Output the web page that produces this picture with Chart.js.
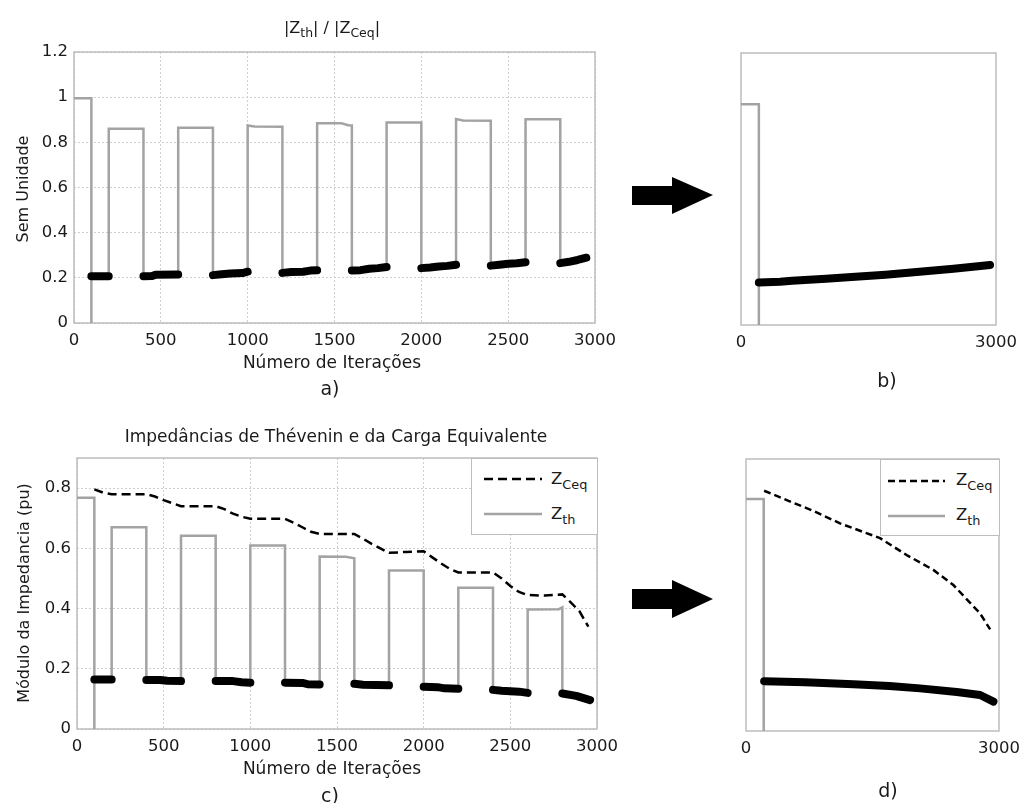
<!DOCTYPE html>
<html>
<head>
<meta charset="utf-8">
<script src="https://cdn.jsdelivr.net/npm/chart.js@4.4.1/dist/chart.umd.min.js"></script>
<style>
  body { margin: 0; width: 1023px; height: 803px; background: #fff; position: relative; overflow: hidden;
         font-family: "DejaVu Sans", sans-serif; color: #1a1a1a; }
  .box { position: absolute; }
  .lbl { position: absolute; transform: translate(-50%, -50%); white-space: nowrap; }
  .ylbl { position: absolute; transform: translate(-50%, -50%) rotate(-90deg); white-space: nowrap; font-size: 16px; }
  sub { font-size: 0.78em; vertical-align: -0.4em; line-height: 0; }
  .legend { position: absolute; background: #fff; border: 1px solid #bdbdbd; box-sizing: border-box; z-index: 2; }
  .legend span { position: absolute; transform: translateY(-50%); font-size: 16.5px; white-space: nowrap; }
  .arrow { position: absolute; }
</style>
</head>
<body>

<div class="box" style="left:0;top:40px;width:620px;height:350px"><canvas id="chartA"></canvas></div>
<div class="box" style="left:700px;top:40px;width:320px;height:330px"><canvas id="chartB"></canvas></div>
<div class="box" style="left:0;top:440px;width:622px;height:350px"><canvas id="chartC"></canvas></div>
<div class="box" style="left:705px;top:440px;width:318px;height:330px"><canvas id="chartD"></canvas></div>

<div class="lbl" style="left:332px;top:27px;font-size:16px">|Z<sub>th</sub>| / |Z<sub>Ceq</sub>|</div>
<div class="ylbl" style="left:22px;top:189px">Sem Unidade</div>
<div class="lbl" style="left:332px;top:362px;font-size:17px">Número de Iterações</div>
<div class="lbl" style="left:330px;top:388px;font-size:19px">a)</div>
<div class="lbl" style="left:887px;top:380px;font-size:19px">b)</div>

<div class="lbl" style="left:336px;top:436px;font-size:17px">Impedâncias de Thévenin e da Carga Equivalente</div>
<div class="ylbl" style="left:23px;top:593px">Módulo da Impedancia (pu)</div>
<div class="lbl" style="left:332px;top:768px;font-size:17px">Número de Iterações</div>
<div class="lbl" style="left:330px;top:795px;font-size:19px">c)</div>
<div class="lbl" style="left:888px;top:790px;font-size:19px">d)</div>

<div class="legend" style="left:471px;top:458px;width:127px;height:77px">
  <svg width="125" height="75" style="position:absolute;left:0;top:0">
    <line x1="12" y1="20" x2="70" y2="20" stroke="#000" stroke-width="2.5" stroke-dasharray="9,5"/>
    <line x1="12" y1="55" x2="70" y2="55" stroke="#a3a3a3" stroke-width="2.5"/>
  </svg>
  <span style="left:79px;top:19px">Z<sub>Ceq</sub></span>
  <span style="left:79px;top:54px">Z<sub>th</sub></span>
</div>
<div class="legend" style="left:880px;top:459px;width:120px;height:77px">
  <svg width="118" height="75" style="position:absolute;left:0;top:0">
    <line x1="7" y1="21" x2="64" y2="21" stroke="#000" stroke-width="2.5" stroke-dasharray="7,4"/>
    <line x1="7" y1="56" x2="64" y2="56" stroke="#a3a3a3" stroke-width="2.5"/>
  </svg>
  <span style="left:75px;top:19px">Z<sub>Ceq</sub></span>
  <span style="left:75px;top:54px">Z<sub>th</sub></span>
</div>

<svg class="arrow" style="left:630px;top:175px" width="86" height="42">
  <polygon points="2,11 42,11 42,2 83,20 42,39 42,30 2,30" fill="#000"/>
</svg>
<svg class="arrow" style="left:630px;top:578px" width="86" height="42">
  <polygon points="2,11 42,11 42,2 83,21 42,40 42,31 2,31" fill="#000"/>
</svg>

<script>
// a) |Zth| / |ZCeq| - full run
const aGrayIter = [0, 100, 100, 100, 200, 200, 400, 400, 600, 600, 800, 800, 1000, 1000, 1040, 1200, 1200, 1400, 1400, 1540, 1580, 1600, 1600, 1800, 1800, 2000, 2000, 2200, 2200, 2240, 2400, 2400, 2600, 2600, 2800, 2800, 2950];
const aGrayVal = [0.995, 0.995, 0, 0.207, 0.207, 0.86, 0.86, 0.207, 0.215, 0.865, 0.865, 0.212, 0.227, 0.875, 0.87, 0.869, 0.222, 0.234, 0.884, 0.884, 0.876, 0.875, 0.233, 0.248, 0.888, 0.888, 0.243, 0.258, 0.903, 0.897, 0.896, 0.254, 0.269, 0.902, 0.902, 0.265, 0.289];
// null = gap between converged stretches
const aDotIter = [100, 200, 200, 400, 450, 470, 600, 600, 800, 850, 900, 970, 1000, 1000, 1200, 1250, 1320, 1360, 1400, 1400, 1600, 1650, 1700, 1750, 1800, 1800, 2000, 2050, 2100, 2150, 2200, 2200, 2400, 2450, 2500, 2550, 2600, 2600, 2800, 2850, 2900, 2950];
const aDotVal = [0.207, 0.207, null, 0.207, 0.208, 0.214, 0.215, null, 0.212, 0.216, 0.219, 0.221, 0.227, null, 0.222, 0.226, 0.227, 0.232, 0.234, null, 0.233, 0.234, 0.24, 0.243, 0.248, null, 0.243, 0.246, 0.25, 0.253, 0.258, null, 0.254, 0.258, 0.262, 0.265, 0.269, null, 0.265, 0.271, 0.279, 0.289];

// b) same ratio, zoomed run
const bGrayIter = [0, 210, 210, 210];
const bGrayVal = [0.974, 0.974, 0, 0.187];
const bDotIter = [210, 460, 600, 1000, 1300, 1700, 2100, 2500, 2930];
const bDotVal = [0.187, 0.191, 0.195, 0.204, 0.212, 0.222, 0.235, 0.248, 0.265];

// c) impedances - full run
const cGrayIter = [0, 100, 100, 100, 200, 200, 400, 400, 600, 600, 800, 800, 1000, 1000, 1200, 1200, 1400, 1400, 1550, 1600, 1600, 1800, 1800, 2000, 2000, 2200, 2200, 2400, 2400, 2600, 2600, 2780, 2800, 2800, 2950];
const cGrayVal = [0.768, 0.768, 0, 0.164, 0.164, 0.67, 0.67, 0.163, 0.159, 0.642, 0.642, 0.159, 0.154, 0.609, 0.609, 0.154, 0.148, 0.573, 0.572, 0.567, 0.15, 0.145, 0.526, 0.526, 0.14, 0.134, 0.469, 0.469, 0.13, 0.12, 0.397, 0.398, 0.404, 0.118, 0.096];
const cDotIter = [100, 200, 200, 400, 480, 520, 600, 600, 800, 900, 950, 1000, 1000, 1200, 1300, 1330, 1400, 1400, 1600, 1650, 1800, 1800, 2000, 2080, 2120, 2200, 2200, 2400, 2450, 2550, 2600, 2600, 2800, 2880, 2960];
const cDotVal = [0.164, 0.164, null, 0.163, 0.163, 0.16, 0.159, null, 0.159, 0.159, 0.155, 0.154, null, 0.154, 0.153, 0.149, 0.148, null, 0.15, 0.147, 0.145, null, 0.14, 0.139, 0.135, 0.134, null, 0.13, 0.127, 0.124, 0.12, null, 0.118, 0.11, 0.096];
const cDashIter = [100, 150, 200, 400, 450, 500, 550, 600, 800, 850, 900, 950, 1000, 1200, 1250, 1300, 1350, 1400, 1600, 1650, 1700, 1750, 1800, 1900, 2000, 2050, 2100, 2150, 2200, 2400, 2450, 2500, 2550, 2600, 2700, 2800, 2850, 2900, 2950];
const cDashVal = [0.796, 0.785, 0.78, 0.78, 0.772, 0.76, 0.75, 0.74, 0.74, 0.73, 0.715, 0.705, 0.698, 0.698, 0.685, 0.67, 0.655, 0.648, 0.648, 0.632, 0.615, 0.6, 0.585, 0.588, 0.59, 0.57, 0.55, 0.532, 0.52, 0.52, 0.5, 0.475, 0.455, 0.445, 0.443, 0.447, 0.42, 0.39, 0.34];

// d) impedances - zoomed run
const dGrayIter = [0, 210, 210, 210];
const dGrayVal = [0.768, 0.768, 0, 0.165];
const dDashIter = [215, 483, 800, 1115, 1590, 1906, 2222, 2459, 2776, 2895];
const dDashVal = [0.795, 0.764, 0.728, 0.687, 0.638, 0.582, 0.533, 0.483, 0.389, 0.336];
const dDotIter = [215, 700, 1273, 1700, 2064, 2500, 2776, 2934];
const dDotVal = [0.165, 0.161, 0.155, 0.149, 0.141, 0.129, 0.119, 0.097];

// tick labels
const fullTicksX = [0, 500, 1000, 1500, 2000, 2500, 3000];
const zoomTicksX = [0, 3000];
const ratioTicksY = [0, 0.2, 0.4, 0.6, 0.8, 1, 1.2];
const impTicksY = [0, 0.2, 0.4, 0.6, 0.8];

function pts(xs, ys) {
  return xs.map((x, i) => ({ x: x, y: ys[i] }));
}

function grayLine(xs, ys) {
  return { data: pts(xs, ys), borderColor: "#a3a3a3", borderWidth: 2.5, pointRadius: 0, order: 3 };
}
function dotLine(xs, ys) {
  return { data: pts(xs, ys), borderColor: "#000", borderWidth: 8, borderCapStyle: "round",
           borderJoinStyle: "round", pointRadius: 0, spanGaps: false, order: 1 };
}
function dashLine(xs, ys, dash) {
  return { data: pts(xs, ys), borderColor: "#000", borderWidth: 2.5, borderDash: dash, pointRadius: 0, order: 2 };
}

// light grey box round the plot area
const frame = {
  id: "frame",
  beforeDatasetsDraw(chart) {
    const a = chart.chartArea;
    const ctx = chart.ctx;
    ctx.save();
    ctx.strokeStyle = "#bdbdbd";
    ctx.lineWidth = 1.5;
    ctx.strokeRect(a.left, a.top, a.right - a.left, a.bottom - a.top);
    ctx.restore();
  }
};

const tickFont = { family: "DejaVu Sans", size: 16.5 };
const plain = (v) => String(v);

function makeChart(id, datasets, o) {
  return new Chart(document.getElementById(id), {
    type: "line",
    data: { datasets: datasets },
    options: {
      responsive: true,
      maintainAspectRatio: false,
      animation: false,
      devicePixelRatio: 1,
      layout: { padding: o.padding },
      plugins: { legend: { display: false }, tooltip: { enabled: false } },
      scales: {
        x: {
          type: "linear", min: 0, max: 3000,
          afterBuildTicks: (s) => { s.ticks = o.xTicks.map((v) => ({ value: v })); },
          // fixed size, and end labels may hang over the padding
          afterFit: (s) => { s.height = o.xHeight; s.paddingLeft = 0; s.paddingRight = 0; },
          grid: { display: o.grid, drawTicks: false, color: "#cfcfcf", lineWidth: 1 },
          border: { display: false, dash: [2, 2] },
          ticks: { padding: 8, color: "#1a1a1a", font: tickFont, maxRotation: 0, autoSkip: false, callback: plain }
        },
        y: {
          type: "linear", min: 0, max: o.yMax,
          display: o.yTicks !== null,
          afterBuildTicks: (s) => { s.ticks = (o.yTicks || []).map((v) => ({ value: v })); },
          afterFit: (s) => { s.width = o.yWidth; s.paddingTop = 0; s.paddingBottom = 0; },
          grid: { display: o.grid, drawTicks: false, color: "#cfcfcf", lineWidth: 1 },
          border: { display: false, dash: [2, 2] },
          ticks: { padding: 6, color: "#1a1a1a", font: tickFont, callback: plain }
        }
      }
    },
    plugins: [frame]
  });
}

makeChart("chartA", [dotLine(aDotIter, aDotVal), grayLine(aGrayIter, aGrayVal)], {
  yMax: 1.2, xTicks: fullTicksX, yTicks: ratioTicksY, grid: true,
  yWidth: 74, xHeight: 67, padding: { top: 12, right: 25, left: 0, bottom: 0 }
});

makeChart("chartB", [dotLine(bDotIter, bDotVal), grayLine(bGrayIter, bGrayVal)], {
  yMax: 1.2, xTicks: zoomTicksX, yTicks: null, grid: false,
  yWidth: 0, xHeight: 45, padding: { top: 13, right: 24, left: 41, bottom: 0 }
});

makeChart("chartC", [dotLine(cDotIter, cDotVal), dashLine(cDashIter, cDashVal, [9, 5]), grayLine(cGrayIter, cGrayVal)], {
  yMax: 0.9, xTicks: fullTicksX, yTicks: impTicksY, grid: true,
  yWidth: 77, xHeight: 61, padding: { top: 18, right: 25, left: 0, bottom: 0 }
});

makeChart("chartD", [dotLine(dDotIter, dDotVal), dashLine(dDashIter, dDashVal, [7, 4]), grayLine(dGrayIter, dGrayVal)], {
  yMax: 0.9, xTicks: zoomTicksX, yTicks: null, grid: false,
  yWidth: 0, xHeight: 39, padding: { top: 19, right: 24, left: 41, bottom: 0 }
});
</script>
</body>
</html>
